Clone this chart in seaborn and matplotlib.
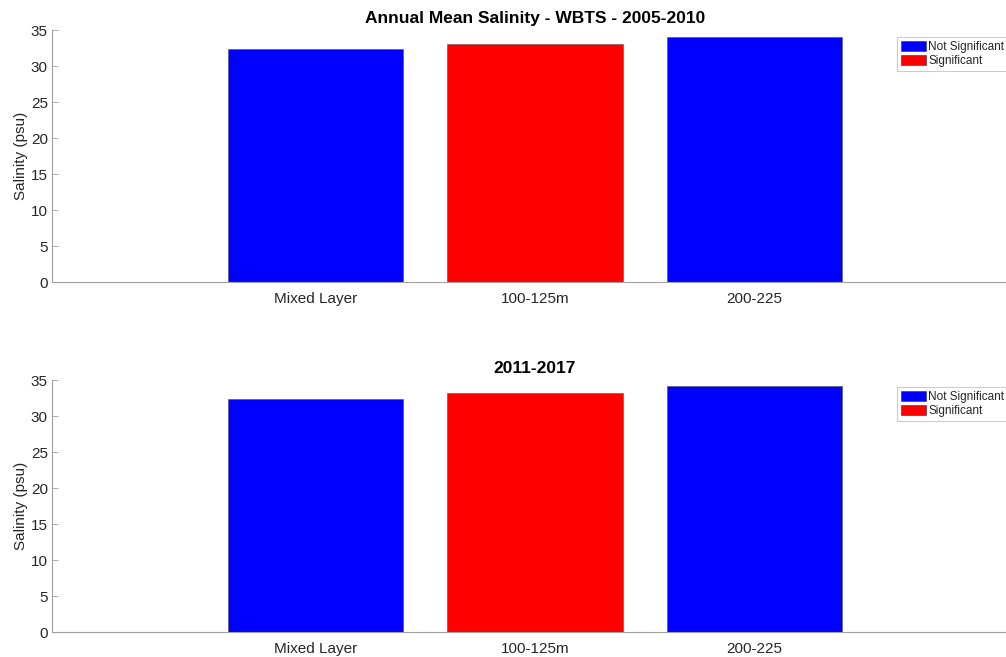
import matplotlib
matplotlib.use("Agg")
import matplotlib.pyplot as plt
import seaborn as sns
import pandas as pd
from matplotlib.patches import Patch

categories = ["Mixed Layer", "100-125m", "200-225"]
sal_2005_2010 = [32.3, 33.0, 34.0]
sal_2011_2017 = [32.4, 33.2, 34.1]
significance = ["Not Significant", "Significant", "Not Significant"]
titles = ["Annual Mean Salinity - WBTS - 2005-2010", "2011-2017"]
yticks = [0, 5, 10, 15, 20, 25, 30, 35]

sns.set_theme(style="white")
plt.rcParams['font.family'] = ['Liberation Sans', 'DejaVu Sans']

palette = {"Not Significant": "#0000ff", "Significant": "#ff0000"}
axis_grey = "#a0a0a0"
text_grey = "#262626"

fig = plt.figure(figsize=(10.06, 6.57), dpi=100)
W, H = 1006, 657
positions = [(52, 30, 282), (52, 380, 632)]
legend_tops = [37, 387]

for i, (vals, title) in enumerate(zip([sal_2005_2010, sal_2011_2017], titles)):
    left, top, bottom = positions[i]
    ax = fig.add_axes([left / W, 1 - bottom / H, (1018 - left) / W, (bottom - top) / H])
    df = pd.DataFrame({"Depth": categories, "Salinity": vals, "Sig": significance})
    sns.barplot(data=df, x="Depth", y="Salinity", hue="Sig", palette=palette,
                dodge=False, width=0.8, ax=ax, legend=False,
                edgecolor="#555555", linewidth=0.4, saturation=1)
    ax.set_xlim(-1.2, 3.2)
    ax.set_ylim(0, 35)
    ax.set_yticks(yticks)
    ax.set_xlabel("")
    ax.set_ylabel("Salinity (psu)", fontsize=11, color=text_grey, labelpad=2)
    ax.set_title(title, fontsize=12.5, fontweight="bold", color="black", pad=5)
    for s in ["top", "right"]:
        ax.spines[s].set_visible(False)
    for s in ["left", "bottom"]:
        ax.spines[s].set_color(axis_grey)
        ax.spines[s].set_linewidth(0.8)
    ax.tick_params(axis="both", direction="in", length=4, width=0.6,
                   color=axis_grey, labelsize=11, labelcolor=text_grey)
    ax.tick_params(axis="y", pad=3, left=True)
    ax.tick_params(axis="x", pad=7, bottom=True)
    handles = [Patch(facecolor=palette[k], edgecolor="#333333", linewidth=0.4)
               for k in ["Not Significant", "Significant"]]
    leg = fig.legend(handles, ["Not Significant", "Significant"],
                     loc="upper left",
                     bbox_to_anchor=(897 / W, 1 - legend_tops[i] / H),
                     bbox_transform=fig.transFigure,
                     fontsize=8.5, frameon=True, fancybox=False, framealpha=1,
                     edgecolor="#cccccc", borderpad=0.35, labelspacing=0.15,
                     handlelength=2.1, handleheight=0.9, handletextpad=0.2,
                     borderaxespad=0)
    leg.get_frame().set_linewidth(0.8)

fig.savefig("out.png", dpi=100)
